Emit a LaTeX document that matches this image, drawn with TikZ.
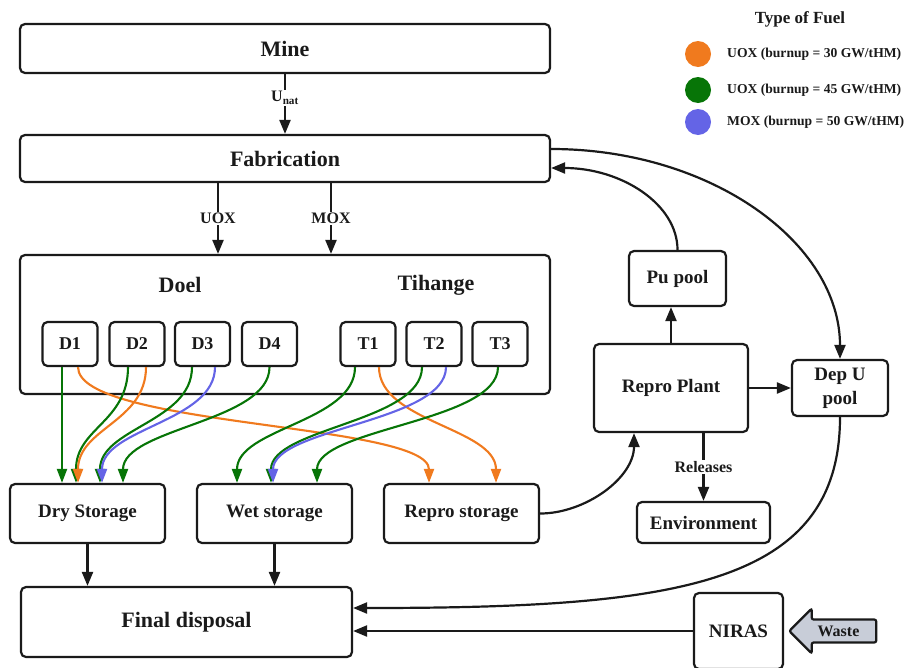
\documentclass[tikz,border=0pt]{standalone}
\usepackage{fontspec}
\setmainfont{Liberation Serif}
\usepackage{tikz}
\usetikzlibrary{positioning,arrows.meta,shapes.arrows,calc}
\definecolor{ink}{HTML}{1A1A1A}
\definecolor{uoxlo}{HTML}{F07A1E}
\definecolor{uoxhi}{HTML}{077507}
\definecolor{moxc}{HTML}{6464E6}
\definecolor{wastec}{HTML}{C8CDD8}
\newcommand{\fsz}[1]{\fontsize{#1}{#1}\selectfont\bfseries}

\begin{document}
\begin{tikzpicture}[
  x=1pt, y=-1pt, line width=2.2pt, >={Triangle[length=14pt,width=11pt]},
  box/.style={draw=ink, rounded corners=5pt, align=center, inner sep=2pt, font=\fsz{19}, text=ink},
  wide/.style={box, minimum width=530pt, font=\fsz{22}},
  reactor/.style={box, minimum width=55pt, minimum height=44pt, font=\fsz{18}},
  store/.style={box, minimum width=155pt, minimum height=59pt},
  flow/.style={->, draw=ink},
  fuel/.style={-{Triangle[length=14pt,width=10pt]}, line width=2.1pt},
  lbl/.style={fill=white, inner sep=1.5pt, font=\fsz{16}, text=ink},
  fueldot/.style={circle, minimum size=26pt, inner sep=0pt},
  keytext/.style={font=\fsz{13.6}, text=ink, inner sep=0pt},
]
\useasboundingbox (0,0) rectangle (909,667);
\clip (0,0) rectangle (909,667);
% -- front end
\node[wide, minimum height=49pt] (mine) at (285,48.5) {Mine};
\node[wide, minimum height=47pt] (fab) at (285,158.5) {Fabrication};
\node[wide, minimum height=139pt] (plants) at (285,324.5) {};
\node[font=\fsz{22}, text=ink] (doel) at (180,285) {Doel};
\node[font=\fsz{22}, text=ink] (tihange) at (436,285) {Tihange};
\foreach \rx/\xc in {D1/70,D2/137,D3/202.5,D4/269.5,T1/368,T2/434,T3/500}
  \node[reactor] (\rx) at (\xc,344) {\rx};
% -- storage and disposal
\node[store] (dry) at (87.5,513.5) {Dry Storage};
\node[store] (wet) at (274.5,513.5) {Wet storage};
\node[store] (reprost) at (461.5,513.5) {Repro storage};
\node[box, minimum width=331pt, minimum height=70pt, font=\fsz{22}] (final) at (186.5,622) {Final disposal};
% -- back end (right)
\node[box, minimum width=97pt, minimum height=55pt] (pupool) at (677.5,278.5) {Pu pool};
\node[box, minimum width=154pt, minimum height=88pt] (reproplant) at (671,388) {Repro Plant};
\node[box, minimum width=96pt, minimum height=56pt, font=\fontsize{19}{24}\selectfont\bfseries] (depu) at (840,388) {Dep U\\pool};
\node[box, minimum width=133pt, minimum height=41pt] (env) at (703.5,522.5) {Environment};
\node[box, minimum width=89pt, minimum height=76pt] (niras) at (738.5,631) {NIRAS};
\node[single arrow, shape border rotate=180, draw=ink, fill=wastec, minimum height=87pt,
      single arrow head extend=11pt, inner xsep=3pt, inner ysep=5pt, rounded corners=2pt,
      font=\fsz{16}, text=ink] (waste) at (838.5,631) {Waste};
% -- legend
\node[font=\fsz{17}, text=ink] (legtitle) at (800,19) {Type of Fuel};
\node[fueldot, fill=uoxlo] (k30) at (698,54) {};
\node[fueldot, fill=uoxhi] (k45) at (698,90) {};
\node[fueldot, fill=moxc] (k50) at (698,122) {};
\node[keytext, right=14pt of k30] {UOX (burnup = 30 GW/tHM)};
\node[keytext, right=14pt of k45] {UOX (burnup = 45 GW/tHM)};
\node[keytext, right=14pt of k50] {MOX (burnup = 50 GW/tHM)};
% -- front end flows
\draw[flow] (mine) -- node[lbl, pos=0.4] {U\textsubscript{nat}} (fab);
\draw[flow] ([xshift=-67pt]fab.south) -- node[lbl] {UOX} ([xshift=-67pt]fab.south |- plants.north);
\draw[flow] ([xshift=46pt]fab.south) -- node[lbl] {MOX} ([xshift=46pt]fab.south |- plants.north);
% -- spent fuel, 30 GW/tHM
\draw[fuel, uoxlo] ([xshift=8pt]D1.south) .. controls +(0,60) and +(0,-60) .. ([xshift=-32.5pt]reprost.north);
\draw[fuel, uoxlo] ([xshift=11pt]T1.south) .. controls +(0,55) and +(0,-55) .. ([xshift=34.5pt]reprost.north);
\draw[fuel, uoxhi] ([xshift=-9pt]D2.south) .. controls +(0,55) and +(0,-55) .. ([xshift=-11.5pt]dry.north);
\draw[fuel, uoxlo] ([xshift=9pt]D2.south) .. controls +(0,55) and +(0,-55) .. ([xshift=-9.5pt]dry.north);
% -- spent fuel to dry storage
\draw[fuel, uoxhi] ([xshift=-8pt]D1.south) -- ([xshift=-8pt]D1.south |- dry.north);
\draw[fuel, uoxhi] ([xshift=-10.5pt]D3.south) .. controls +(0,55) and +(0,-55) .. ([xshift=12.5pt]dry.north);
\draw[fuel, moxc] ([xshift=12.5pt]D3.south) .. controls +(0,55) and +(0,-55) .. ([xshift=14.5pt]dry.north);
\draw[fuel, uoxhi] (D4.south) .. controls +(0,55) and +(0,-55) .. ([xshift=35.5pt]dry.north);
% -- spent fuel to wet storage
\draw[fuel, uoxhi] ([xshift=-13pt]T1.south) .. controls +(0,55) and +(0,-55) .. ([xshift=-37.5pt]wet.north);
\draw[fuel, uoxhi] ([xshift=-12pt]T2.south) .. controls +(0,55) and +(0,-55) .. ([xshift=-3.5pt]wet.north);
\draw[fuel, moxc] ([xshift=12pt]T2.south) .. controls +(0,55) and +(0,-55) .. ([xshift=-1.5pt]wet.north);
\draw[fuel, uoxhi] ([xshift=-2pt]T3.south) .. controls +(0,55) and +(0,-55) .. ([xshift=42.5pt]wet.north);
% -- back end flows
\draw[flow] (dry) -- (dry |- final.north);
\draw[flow] (wet) -- (wet |- final.north);
\draw[flow] (reprost.east) .. controls +(45,0) and +(0,45) .. ([xshift=-37pt]reproplant.south);
\draw[flow] (reproplant) -- (reproplant |- pupool.south);
\draw[flow] (reproplant) -- (depu);
\draw[flow] (env.north |- reproplant.south) -- node[lbl] {Releases} (env.north);
\draw[flow] (pupool.north) .. controls +(0,-46) and +(70,0) .. ([yshift=-9.5pt]fab.east);
\draw[flow] ([yshift=9.5pt]fab.east) .. controls +(160,0) and +(0,-116) .. (depu.north);
\draw[flow] (depu.south) .. controls +(0,170) and +(320,0) .. ([yshift=14pt]final.east);
\draw[flow] (niras.west) -- (niras.west -| final.east);
\end{tikzpicture}
\end{document}
